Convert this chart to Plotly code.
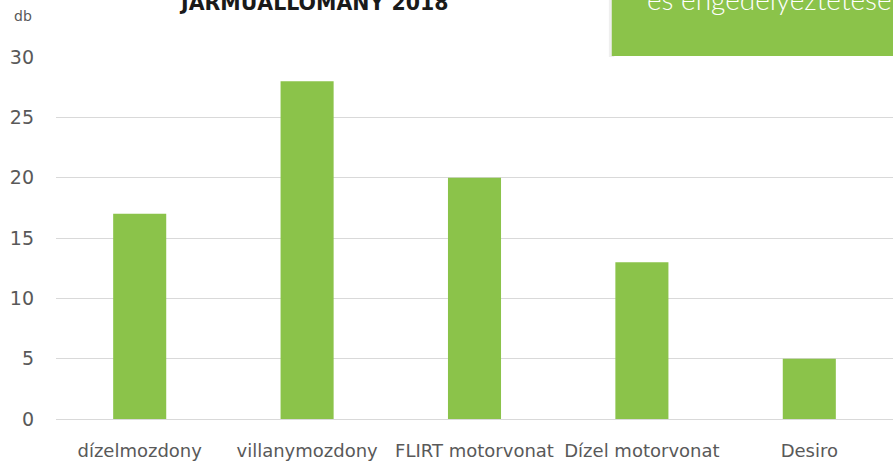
import plotly.graph_objects as go

categories = ["dízelmozdony", "villanymozdony", "FLIRT motorvonat", "Dízel motorvonat", "Desiro"]
values = [17, 28, 20, 13, 5]
y_ticks = [0, 5, 10, 15, 20, 25, 30]

title_text = "JÁRMŰÁLLOMÁNY 2018"
box_text = "és engedélyeztetése"
unit_text = "db"

GREEN = "#8BC34A"
GRID = "#D9D9D9"
TXT = "#595959"

fig = go.Figure()
fig.add_trace(go.Bar(x=categories, y=values, marker=dict(color=GREEN, line=dict(width=0)),
                     hoverinfo="x+y"))

fig.update_layout(
    width=893, height=462,
    margin=dict(l=56, r=0, t=57, b=43, autoexpand=False),
    paper_bgcolor="white", plot_bgcolor="white",
    bargap=0.683,
    showlegend=False,
    font=dict(family="DejaVu Sans", color=TXT),
)
fig.update_xaxes(
    range=[-0.5, 4.5], showgrid=False, showline=False, zeroline=False, automargin=False,
    ticks="", tickfont=dict(family="DejaVu Sans", size=18, color=TXT),
    ticklabelstandoff=19,
)
fig.update_yaxes(
    range=[0, 30], tickvals=y_ticks, showgrid=True, gridcolor=GRID, gridwidth=1,
    zeroline=True, zerolinecolor=GRID, zerolinewidth=1, showline=False, ticks="",
    automargin=False,
    tickfont=dict(family="DejaVu Sans", size=19, color=TXT),
    ticklabelstandoff=21,
)

# green box top right
fig.add_shape(type="rect", xref="paper", yref="paper", x0=0.6605, x1=0.667, y0=1.0, y1=1.2,
              fillcolor="#EFEFEF", line=dict(width=0), layer="above")
fig.add_shape(type="rect", xref="paper", yref="paper", x0=0.664, x1=1.01, y0=1.0028, y1=1.2,
              fillcolor=GREEN, line=dict(width=0), layer="above")

fig.add_annotation(text=box_text, xref="paper", yref="paper", x=0.704, y=1.108,
                   xanchor="left", yanchor="bottom", showarrow=False,
                   font=dict(family="Lato", size=28, color="white", weight=300))
fig.add_annotation(text="<b>" + title_text + "</b>", xref="paper", yref="paper",
                   x=(313 - 56) / 837, y=1.110, xanchor="center", yanchor="bottom",
                   showarrow=False, font=dict(family="DejaVu Sans", size=20.5, color="#1a1a1a"))
fig.add_annotation(text=unit_text, xref="paper", yref="paper", x=(23 - 56) / 837,
                   y=(419 - 16) / 362, xanchor="center", yanchor="middle", showarrow=False,
                   font=dict(family="DejaVu Sans", size=14, color=TXT))

fig.write_html("out.html", config={"displayModeBar": False},
               post_script="document.body.style.margin='0';document.body.style.overflow='hidden';")
